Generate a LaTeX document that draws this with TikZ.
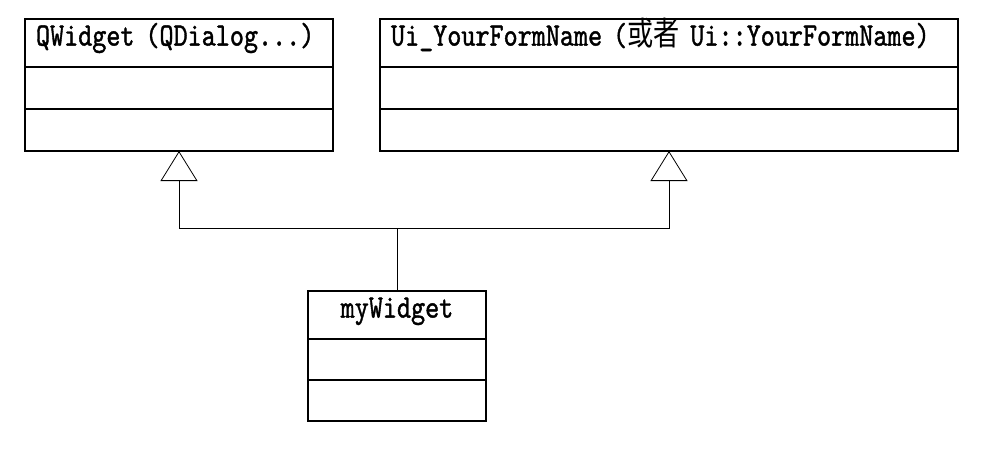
\documentclass[tikz,border=0pt]{standalone}
\usepackage{fontspec}
\usepackage{tikz}
\usetikzlibrary{arrows.meta,positioning,calc}
\newfontfamily\umlfont[FakeStretch=0.82, FakeBold=1.2]{lmmono10-regular.otf}
\newfontfamily\cjkfont[FakeStretch=0.8]{Noto Sans CJK SC}
\tikzset{
  classname/.style={draw, line width=1.2pt, outer sep=0pt, inner xsep=11pt, inner ysep=0pt,
    minimum height=48pt, font=\fontsize{32.7}{34}\umlfont,
    text height=0.72em, text depth=0.2em},
  classpart/.style={draw, line width=1.2pt, outer sep=0pt, inner sep=0pt, minimum height=42pt},
  inherit/.style={draw, line width=0.8pt,
    -{Triangle[open, length=30pt, width=37pt]}}
}
\begin{document}
\begin{tikzpicture}[x=1pt, y=-1pt]
  \useasboundingbox (0,0) rectangle (981,450);

  % base classes
  \node[classname, align=left, text width=286pt, anchor=north west] (qwidget) at (25,19)
    {QWidget (QDialog...)};
  \node[classpart, minimum width=308pt, below=0pt of qwidget] (qwidgetattr) {};
  \node[classpart, minimum width=308pt, below=0pt of qwidgetattr] (qwidgetops) {};

  \node[classname, align=left, text width=556pt, anchor=north west] (uiform) at (380,19)
    {Ui\_YourFormName ({\cjkfont 或者} Ui::YourFormName)};
  \node[classpart, minimum width=578pt, below=0pt of uiform] (uiformattr) {};
  \node[classpart, minimum width=578pt, below=0pt of uiformattr] (uiformops) {};

  % derived class
  \node[classname, align=center, text width=156pt, anchor=north west] (mywidget) at (308,291)
    {myWidget};
  \node[classpart, minimum width=178pt, minimum height=41pt, below=0pt of mywidget] (mywidgetattr) {};
  \node[classpart, minimum width=178pt, minimum height=41pt, below=0pt of mywidgetattr] (mywidgetops) {};

  \coordinate (junction) at ($(mywidget.north)+(0,-63)$);
  \draw[inherit] (mywidget.north) -- (junction) -| (qwidgetops.south);
  \draw[inherit] (junction) -| (uiformops.south);
\end{tikzpicture}
\end{document}
